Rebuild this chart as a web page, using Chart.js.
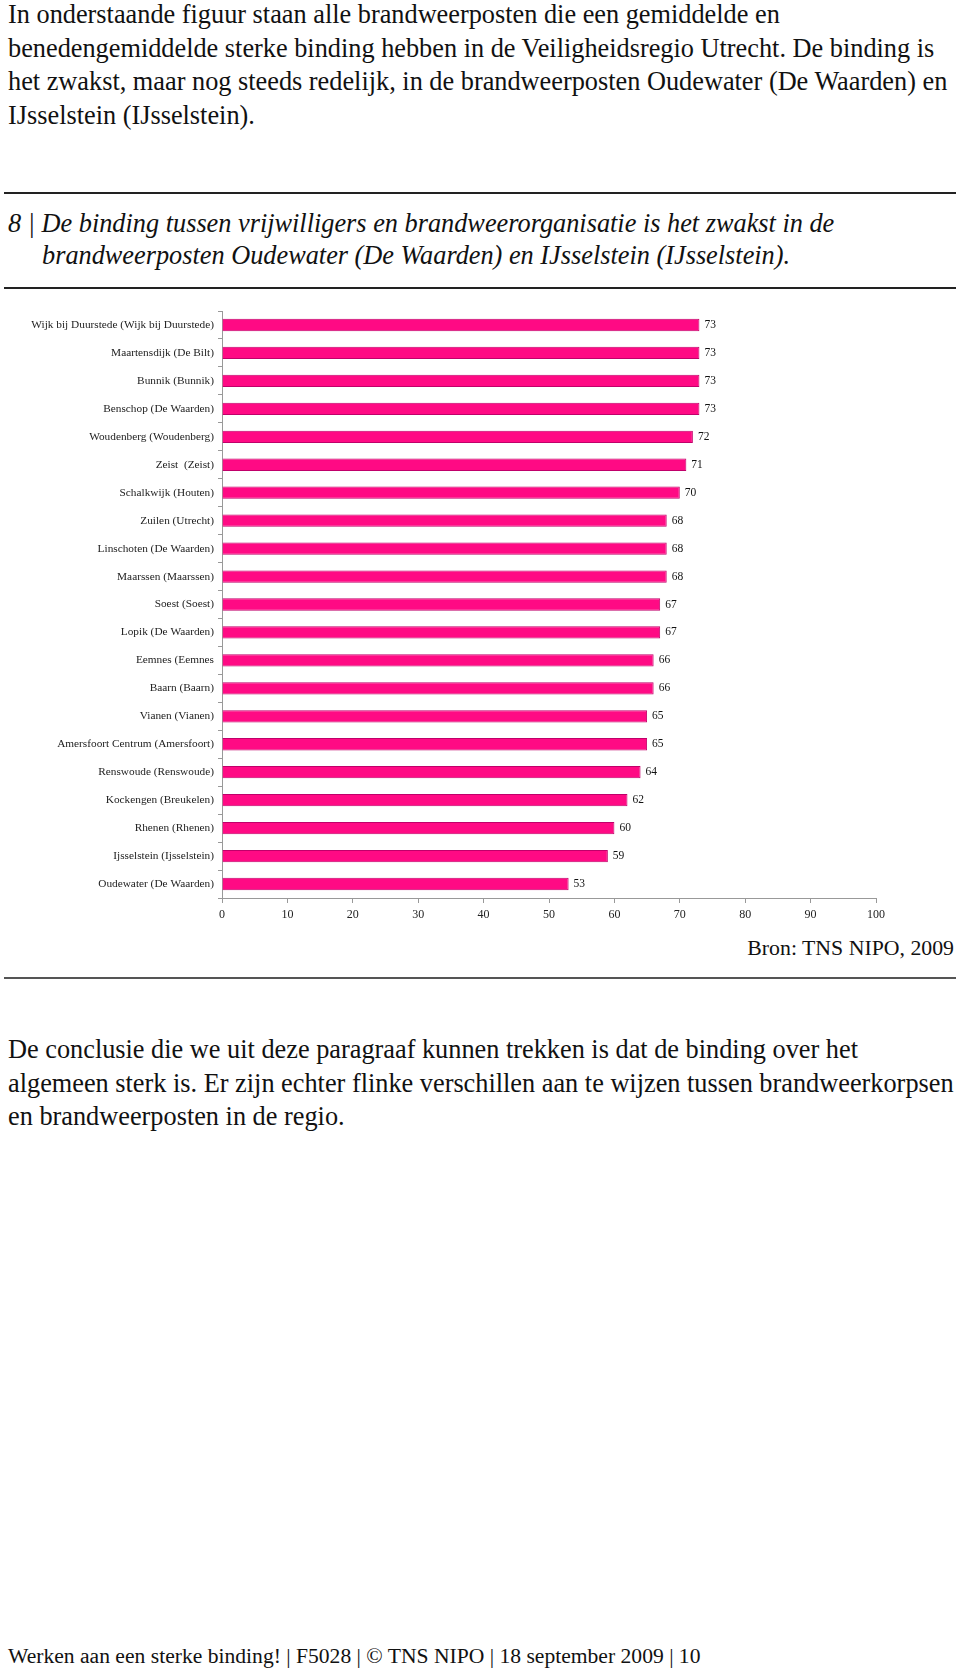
<!DOCTYPE html>
<html>
<head>
<meta charset="utf-8">
<script src="https://cdn.jsdelivr.net/npm/chart.js@4/dist/chart.umd.min.js"></script>
<style>
  body { margin: 0; background: #fff; width: 960px; height: 1672px; position: relative; font-family: "Liberation Serif", "Times New Roman", serif; color: #111; }
  .txt { position: absolute; left: 8px; font-size: 26.3px; line-height: 33.5px; white-space: nowrap; font-family: "Liberation Serif", serif; }
  .rule { position: absolute; left: 4px; width: 952px; height: 2px; background: #222; }
  .cap { position: absolute; left: 8px; font-size: 26.3px; font-style: italic; line-height: 32px; white-space: nowrap; font-family: "Liberation Serif", serif; }
  #chartBox { position: absolute; left: 0; top: 295px; width: 960px; height: 633px; }
</style>
</head>
<body>
<div class="txt" style="top:-2px">In onderstaande figuur staan alle brandweerposten die een gemiddelde en<br>benedengemiddelde sterke binding hebben in de Veiligheidsregio Utrecht. De binding is<br>het zwakst, maar nog steeds redelijk, in de brandweerposten Oudewater (De Waarden) en<br>IJsselstein (IJsselstein).</div>
<div class="rule" style="top:192px"></div>
<div class="cap" style="top:208px">8 | De binding tussen vrijwilligers en brandweerorganisatie is het zwakst in de<br><span style="padding-left:34px">brandweerposten Oudewater (De Waarden) en IJsselstein (IJsselstein).</span></div>
<div class="rule" style="top:287px"></div>
<div id="chartBox"><canvas id="bindingChart"></canvas></div>
<div class="txt" style="top:932px; left:auto; right:6px; font-size:21.8px">Bron: TNS NIPO, 2009</div>
<div class="rule" style="top:977px; background:#555"></div>
<div class="txt" style="top:1033px">De conclusie die we uit deze paragraaf kunnen trekken is dat de binding over het<br>algemeen sterk is. Er zijn echter flinke verschillen aan te wijzen tussen brandweerkorpsen<br>en brandweerposten in de regio.</div>
<div class="txt" style="top:1640px; font-size:21.6px">Werken aan een sterke binding! | F5028 | © TNS NIPO | 18 september 2009 | 10</div>

<script>
const posten = [
    'Wijk bij Duurstede (Wijk bij Duurstede)',
    'Maartensdijk (De Bilt)',
    'Bunnik (Bunnik)',
    'Benschop (De Waarden)',
    'Woudenberg (Woudenberg)',
    'Zeist  (Zeist)',
    'Schalkwijk (Houten)',
    'Zuilen (Utrecht)',
    'Linschoten (De Waarden)',
    'Maarssen (Maarssen)',
    'Soest (Soest)',
    'Lopik (De Waarden)',
    'Eemnes (Eemnes',
    'Baarn (Baarn)',
    'Vianen (Vianen)',
    'Amersfoort Centrum (Amersfoort)',
    'Renswoude (Renswoude)',
    'Kockengen (Breukelen)',
    'Rhenen (Rhenen)',
    'Ijsselstein (Ijsselstein)',
    'Oudewater (De Waarden)'
];
const bindingScores = [73, 73, 73, 73, 72, 71, 70, 68, 68, 68, 67, 67, 66, 66, 65, 65, 64, 62, 60, 59, 53];
const xTicks = [0, 10, 20, 30, 40, 50, 60, 70, 80, 90, 100];

const serif = '"Liberation Serif", "Times New Roman", serif';

// waarde rechts naast elke balk
const valueLabels = {
    id: 'valueLabels',
    afterDatasetsDraw(chart) {
        const ctx = chart.ctx;
        const meta = chart.getDatasetMeta(0);
        ctx.save();
        ctx.font = '11.5px ' + serif;
        ctx.fillStyle = '#111';
        ctx.textAlign = 'left';
        ctx.textBaseline = 'middle';
        meta.data.forEach((bar, i) => {
            ctx.fillText(String(bindingScores[i]), bar.x + 5, bar.y);
        });
        ctx.restore();
    }
};

new Chart(document.getElementById('bindingChart'), {
    type: 'bar',
    data: {
        labels: posten,
        datasets: [{
            data: bindingScores,
            backgroundColor: '#ff0a84',
            borderColor: '#c0006a',
            borderWidth: 1,
            barPercentage: 0.44,
            categoryPercentage: 1
        }]
    },
    options: {
        indexAxis: 'y',
        responsive: true,
        maintainAspectRatio: false,
        animation: false,
        layout: { padding: { top: 16, right: 84, bottom: 0, left: 0 } },
        plugins: { legend: { display: false }, tooltip: { enabled: false } },
        scales: {
            x: {
                min: 0,
                max: 100,
                afterBuildTicks: scale => { scale.ticks = xTicks.map(v => ({ value: v })); },
                afterFit: scale => { scale.height = 30; },
                border: { color: '#999', width: 1 },
                grid: { drawOnChartArea: false, drawTicks: true, tickLength: 5, color: '#999' },
                ticks: { font: { family: serif, size: 12 }, color: '#222', padding: 5, maxRotation: 0 }
            },
            y: {
                afterFit: scale => { scale.width = 222; },
                border: { color: '#999', width: 1 },
                grid: { drawOnChartArea: false, drawTicks: true, tickLength: 4, color: '#999', offset: true },
                ticks: { font: { family: serif, size: 11.3 }, color: '#222', padding: 4, autoSkip: false }
            }
        }
    },
    plugins: [valueLabels]
});
</script>
</body>
</html>
